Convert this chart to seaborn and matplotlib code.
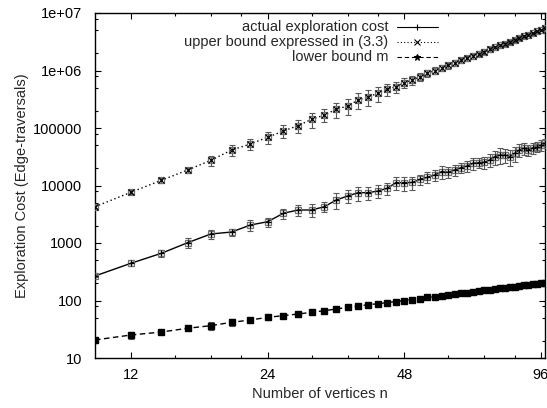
import numpy as np
import pandas as pd
import seaborn as sns
import matplotlib.pyplot as plt
from matplotlib.lines import Line2D
from matplotlib.ticker import FixedLocator, NullFormatter

# number of vertices (even n from 10 to 98)
n_vertices = [10, 12, 14, 16, 18, 20, 22, 24, 26, 28, 30, 32, 34, 36, 38, 40, 42, 44,
              46, 48, 50, 52, 54, 56, 58, 60, 62, 64, 66, 68, 70, 72, 74, 76, 78, 80,
              82, 84, 86, 88, 90, 92, 94, 96, 98]

actual_cost = [267, 444, 662, 1012, 1435, 1553, 2056, 2344, 3289, 3750, 3750, 4276,
               5598, 6561, 7499, 7499, 8020, 8935, 11190, 11190, 11300, 12820, 13900,
               15230, 17380, 16980, 18620, 20400, 21830, 24320, 24950, 25300, 27750,
               31700, 33900, 33900, 31700, 36300, 41400, 44400, 41400, 44900, 47300,
               50600, 54200]

upper_bound = [4276, 7620, 12300, 18600, 27400, 41400, 52700, 68900, 88700, 109600,
               141600, 168300, 211400, 241300, 306900, 350000, 401000, 471000, 522000,
               614000, 684000, 780000, 893000, 998000, 1109000, 1230000, 1358000,
               1495000, 1640000, 1795000, 1960000, 2134000, 2320000, 2516000, 2722000,
               2938000, 3168000, 3405000, 3656000, 3926000, 4198000, 4487000, 4786000,
               5105000, 5420000]

lower_bound = [20.6, 25.1, 28.3, 32.9, 36.5, 41.8, 45.8, 51.0, 54.5, 58.2, 62.3, 66.5,
               71.1, 76.2, 80.2, 84.5, 88, 92, 96, 100, 104, 108, 113, 117, 121, 125,
               129, 133, 137, 141, 146, 150, 154, 158, 162, 166, 171, 175, 179, 183,
               187, 192, 196, 200, 204]

# relative half-widths of the error bars
actual_err = [0.05, 0.12, 0.15, 0.2, 0.18, 0.15, 0.2, 0.18, 0.2, 0.22, 0.25, 0.2, 0.3,
              0.25, 0.28, 0.25, 0.25, 0.22, 0.25, 0.28, 0.25, 0.2, 0.22, 0.22, 0.25,
              0.22, 0.2, 0.2, 0.22, 0.22, 0.2, 0.22, 0.25, 0.28, 0.3, 0.28, 0.3, 0.28,
              0.25, 0.25, 0.22, 0.22, 0.2, 0.2, 0.18]
upper_err = [0.05, 0.08, 0.1, 0.1, 0.2, 0.2, 0.22, 0.22, 0.25, 0.25, 0.3, 0.25, 0.28,
             0.3, 0.3, 0.3, 0.28, 0.25, 0.22, 0.2, 0.18, 0.16, 0.15, 0.14, 0.13, 0.12,
             0.12, 0.11, 0.1, 0.1, 0.1, 0.09, 0.09, 0.08, 0.08, 0.08, 0.07, 0.07, 0.07,
             0.06, 0.06, 0.06, 0.05, 0.05, 0.05]
lower_err = [0.1, 0.15, 0.08, 0.08, 0.15, 0.15, 0.08, 0.1, 0.08, 0.1, 0.06, 0.06, 0.05,
             0.06, 0.05, 0.04, 0.04, 0.04, 0.03, 0.03, 0.03, 0.03, 0.03, 0.03, 0.03,
             0.03, 0.03, 0.03, 0.03, 0.03, 0.03, 0.03, 0.03, 0.03, 0.03, 0.03, 0.03,
             0.03, 0.03, 0.03, 0.03, 0.03, 0.03, 0.03, 0.03]

x_ticks = [12, 24, 48, 96]
x_minor = [15, 18, 21, 30, 36, 42, 60, 72, 84]
y_ticks = [10, 100, 1000, 10000, 100000, 1e6, 1e7]
y_labels = ['10', '100', '1000', '10000', '100000', '1e+06', '1e+07']

df = pd.DataFrame({'n': n_vertices, 'actual': actual_cost,
                   'upper': upper_bound, 'lower': lower_bound})

sns.set_style('ticks')
plt.rcParams['font.family'] = ['Liberation Sans', 'DejaVu Sans']

fig = plt.figure(figsize=(5.47, 4.08), dpi=100)
ax = fig.add_axes([95 / 547, 50 / 408, 450 / 547, 345 / 408])

dotted = (0, (1, 2))
dashed = (0, (4, 2.5))

# lines
sns.lineplot(data=df, x='n', y='actual', ax=ax, color='black', lw=1.0, linestyle='-')
sns.lineplot(data=df, x='n', y='upper', ax=ax, color='black', lw=1.0, linestyle=dotted)
sns.lineplot(data=df, x='n', y='lower', ax=ax, color='black', lw=1.0, linestyle=dashed)

# error bars
for col, rel in [('actual', actual_err), ('upper', upper_err), ('lower', lower_err)]:
    ax.errorbar(df['n'], df[col], yerr=df[col] * np.array(rel), fmt='none',
                ecolor='0.35', elinewidth=0.8, capsize=2.5, capthick=0.8, zorder=3)

# point markers
ax.plot(df['n'], df['actual'], 's', ms=5, mfc='none', mec='0.45', mew=0.9, zorder=4)
ax.plot(df['n'], df['actual'], '+', ms=5, color='black', mew=0.9, zorder=5)
ax.plot(df['n'], df['upper'], 's', ms=5, mfc='none', mec='0.45', mew=0.9, zorder=4)
ax.plot(df['n'], df['upper'], 'x', ms=4, color='black', mew=0.9, zorder=5)
ax.plot(df['n'], df['lower'], 's', ms=5, color='black', mec='black', zorder=5)

ax.set_xscale('log', base=2)
ax.set_yscale('log')
ax.set_xlim(10, 98)
ax.set_ylim(10, 1e7)

ax.xaxis.set_major_locator(FixedLocator(x_ticks))
ax.set_xticklabels([str(t) for t in x_ticks])
ax.xaxis.set_minor_locator(FixedLocator(x_minor))
ax.xaxis.set_minor_formatter(NullFormatter())

ax.yaxis.set_major_locator(FixedLocator(y_ticks))
ax.set_yticklabels(y_labels)
y_minor = [m * 10.0 ** k for k in range(1, 7) for m in (2, 5, 8)]
ax.yaxis.set_minor_locator(FixedLocator(y_minor))
ax.yaxis.set_minor_formatter(NullFormatter())

ax.tick_params(which='both', direction='in', top=True, right=True, color='black',
               labelsize=10.5, labelcolor='black')
ax.tick_params(axis='y', pad=9)
ax.tick_params(axis='x', pad=7)
ax.tick_params(which='major', length=4.5, width=0.8)
ax.tick_params(which='minor', length=2.5, width=0.8)
for s in ax.spines.values():
    s.set_color('black')
    s.set_linewidth(1.0)

ax.set_xlabel('Number of vertices n', fontsize=10.5, labelpad=4)
ax.set_ylabel('Exploration Cost (Edge-traversals)', fontsize=10.5, labelpad=3)

# key in the gnuplot manner: right-aligned text, sample line to its right
legend_rows = [('actual exploration cost', '-', '+'),
               ('upper bound expressed in (3.3)', dotted, 'x'),
               ('lower bound m', dashed, '*')]
for i, (label, ls, mk) in enumerate(legend_rows):
    yy = 1 - (14 + 15 * i) / 345
    ax.text((388 - 95) / 450, yy, label, transform=ax.transAxes, ha='right',
            va='center', fontsize=10.5)
    ax.add_line(Line2D([(397 - 95) / 450, (438 - 95) / 450], [yy, yy],
                       transform=ax.transAxes, color='black', lw=0.8, linestyle=ls))
    ax.add_line(Line2D([(417 - 95) / 450], [yy], transform=ax.transAxes,
                       color='black', marker=mk, ms=5, mew=0.8))

fig.savefig('out.png', dpi=100)
